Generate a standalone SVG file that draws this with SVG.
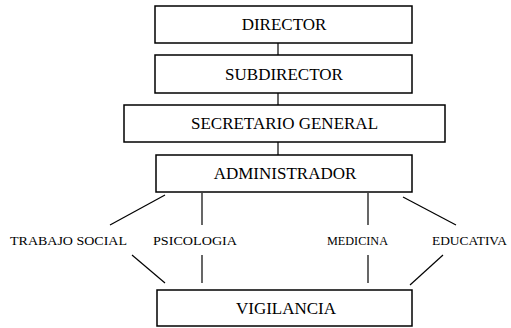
<svg xmlns="http://www.w3.org/2000/svg" width="511" height="328" viewBox="0 0 511 328">
<style>
.box{fill:#fff;stroke:#000;stroke-width:1.5}
.t{font-family:"Liberation Serif","Times New Roman",serif;font-size:17px;fill:#000;text-anchor:middle}
.l{font-family:"Liberation Serif","Times New Roman",serif;font-size:13px;fill:#000}
.c{stroke:#000;stroke-width:1.2;fill:none}
</style>
<rect width="511" height="328" fill="#fff"/>
<g id="connectors">
<line class="c" x1="278" y1="43" x2="278" y2="55"/>
<line class="c" x1="278" y1="93" x2="278" y2="105"/>
<line class="c" x1="278" y1="142" x2="278" y2="155"/>
<line class="c" x1="165" y1="195" x2="110" y2="225"/>
<line class="c" x1="202" y1="193" x2="202" y2="225"/>
<line class="c" x1="368" y1="193" x2="368" y2="225"/>
<line class="c" x1="403" y1="197" x2="456" y2="225"/>
<line class="c" x1="132" y1="255" x2="165" y2="283"/>
<line class="c" x1="202" y1="255" x2="202" y2="283"/>
<line class="c" x1="368" y1="255" x2="368" y2="283"/>
<line class="c" x1="443" y1="255" x2="410" y2="285"/>
</g>
<g id="director"><rect class="box" x="155" y="6" width="257" height="37"/><text class="t" x="284" y="30">DIRECTOR</text></g>
<g id="subdirector"><rect class="box" x="155" y="55" width="257" height="38"/><text class="t" x="284" y="80">SUBDIRECTOR</text></g>
<g id="secretario"><rect class="box" x="124" y="105" width="321" height="37"/><text class="t" x="284.5" y="129">SECRETARIO GENERAL</text></g>
<g id="administrador"><rect class="box" x="156" y="155" width="256" height="37"/><text class="t" x="285" y="179">ADMINISTRADOR</text></g>
<g id="vigilancia"><rect class="box" x="157" y="290" width="255" height="36"/><text class="t" x="286" y="314">VIGILANCIA</text></g>
<g id="trabajo"><text class="l" x="10" y="245" textLength="117" lengthAdjust="spacingAndGlyphs">TRABAJO SOCIAL</text></g>
<g id="psicologia"><text class="l" x="153" y="245" textLength="84" lengthAdjust="spacingAndGlyphs">PSICOLOGIA</text></g>
<g id="medicina"><text class="l" x="327" y="245" textLength="61" lengthAdjust="spacingAndGlyphs">MEDICINA</text></g>
<g id="educativa"><text class="l" x="432" y="245" textLength="75" lengthAdjust="spacingAndGlyphs">EDUCATIVA</text></g>
</svg>
